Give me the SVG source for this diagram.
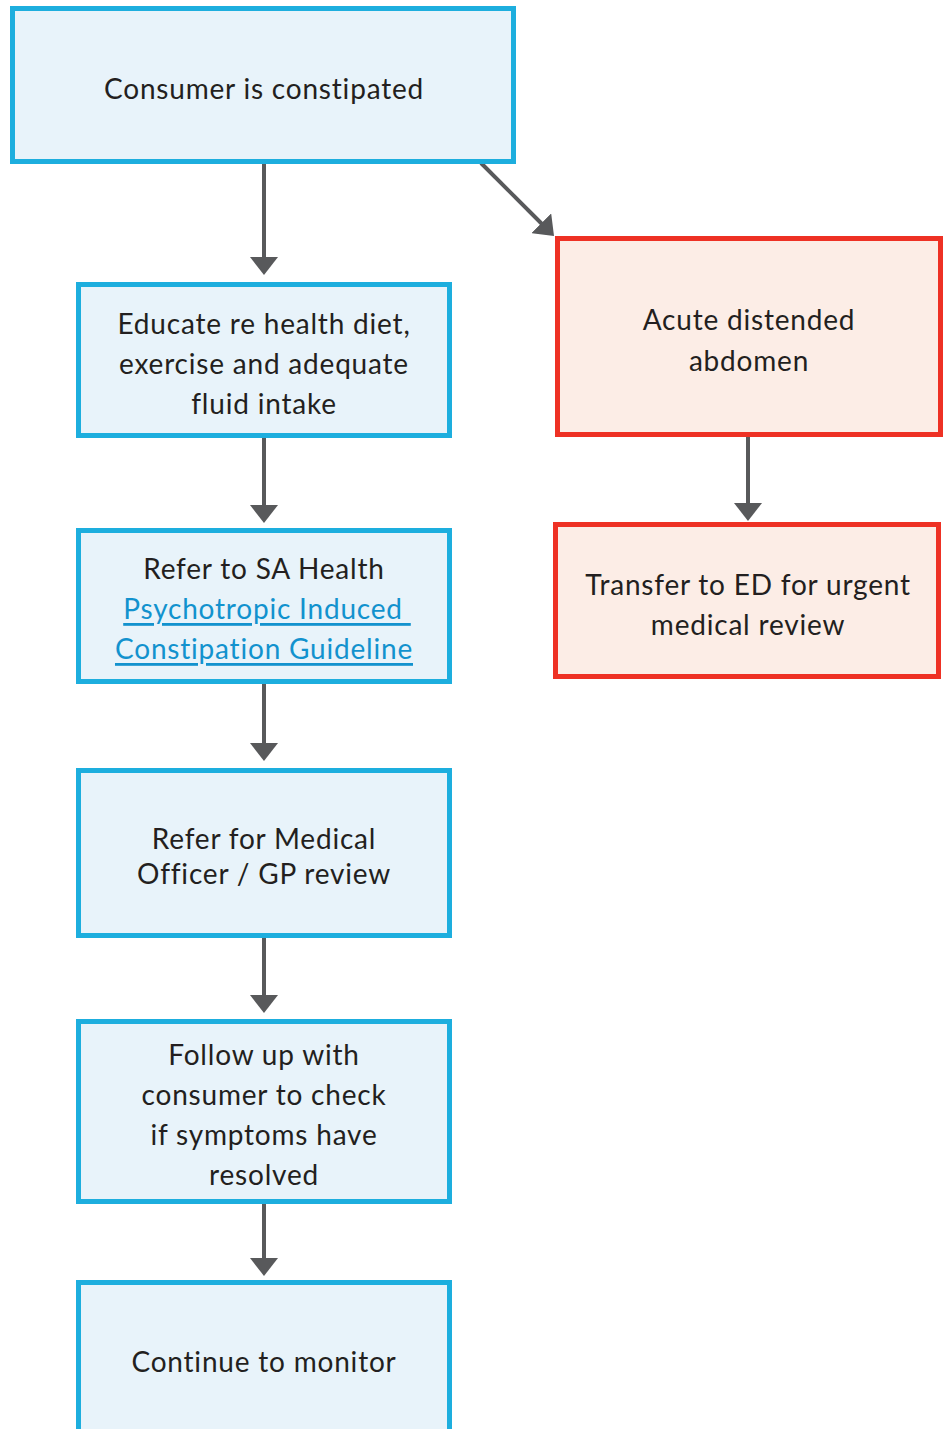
<svg xmlns="http://www.w3.org/2000/svg" width="950" height="1429" viewBox="0 0 950 1429">
<style>
.b{fill:#E8F3FA;stroke:#1DAEDE;stroke-width:5}
.r{fill:#FCEDE6;stroke:#EE3124;stroke-width:5}
.t{font-family:Lato,"Liberation Sans",sans-serif;font-size:28px;letter-spacing:0.8px;fill:#231F20;text-anchor:middle;dominant-baseline:central}
.lk{fill:#1292CE;text-decoration:underline}
.c{stroke:#58595B;stroke-width:4;fill:none;marker-end:url(#ah)}
</style>
<defs>
<marker id="ah" markerUnits="userSpaceOnUse" markerWidth="18" markerHeight="28" refX="1" refY="14" orient="auto" viewBox="0 0 18 28">
<path d="M0,0 L18,14 L0,28 Z" fill="#58595B"/>
</marker>
</defs>
<rect width="950" height="1429" fill="#FFFFFF"/>
<g id="connectors">
<line class="c" x1="264" y1="164" x2="264" y2="258"/>
<line class="c" x1="264" y1="438" x2="264" y2="506"/>
<line class="c" x1="264" y1="684" x2="264" y2="744"/>
<line class="c" x1="264" y1="938" x2="264" y2="996"/>
<line class="c" x1="264" y1="1204" x2="264" y2="1259"/>
<line class="c" x1="748" y1="437" x2="748" y2="504"/>
<line class="c" x1="481" y1="163" x2="542" y2="224"/>
</g>
<g id="n1">
<rect class="b" x="12.5" y="8.5" width="501" height="153"/>
<text class="t" x="264" y="88">Consumer is constipated</text>
</g>
<g id="n2">
<rect class="b" x="78.5" y="284.5" width="371" height="151"/>
<text class="t" x="264" y="323">Educate re health diet,</text>
<text class="t" x="264" y="363">exercise and adequate</text>
<text class="t" x="264" y="403">fluid intake</text>
</g>
<g id="n3">
<rect class="b" x="78.5" y="530.5" width="371" height="151"/>
<text class="t" x="264" y="568">Refer to SA Health</text>
<text class="t lk" x="267" y="608">Psychotropic Induced&#160;</text>
<text class="t lk" x="264" y="648">Constipation Guideline</text>
</g>
<g id="n4">
<rect class="b" x="78.5" y="770.5" width="371" height="165"/>
<text class="t" x="264" y="838">Refer for Medical</text>
<text class="t" x="264" y="873">Officer / GP review</text>
</g>
<g id="n5">
<rect class="b" x="78.5" y="1021.5" width="371" height="180"/>
<text class="t" x="264" y="1054">Follow up with</text>
<text class="t" x="264" y="1094">consumer to check</text>
<text class="t" x="264" y="1134">if symptoms have</text>
<text class="t" x="264" y="1174">resolved</text>
</g>
<g id="n6">
<rect class="b" x="78.5" y="1282.5" width="371" height="170"/>
<text class="t" x="264" y="1361">Continue to monitor</text>
</g>
<g id="n7">
<rect class="r" x="557.5" y="238.5" width="383" height="196"/>
<text class="t" x="749" y="319">Acute distended</text>
<text class="t" x="749" y="360">abdomen</text>
</g>
<g id="n8">
<rect class="r" x="555.5" y="524.5" width="383" height="152"/>
<text class="t" x="748" y="584">Transfer to ED for urgent</text>
<text class="t" x="748" y="624">medical review</text>
</g>
</svg>
